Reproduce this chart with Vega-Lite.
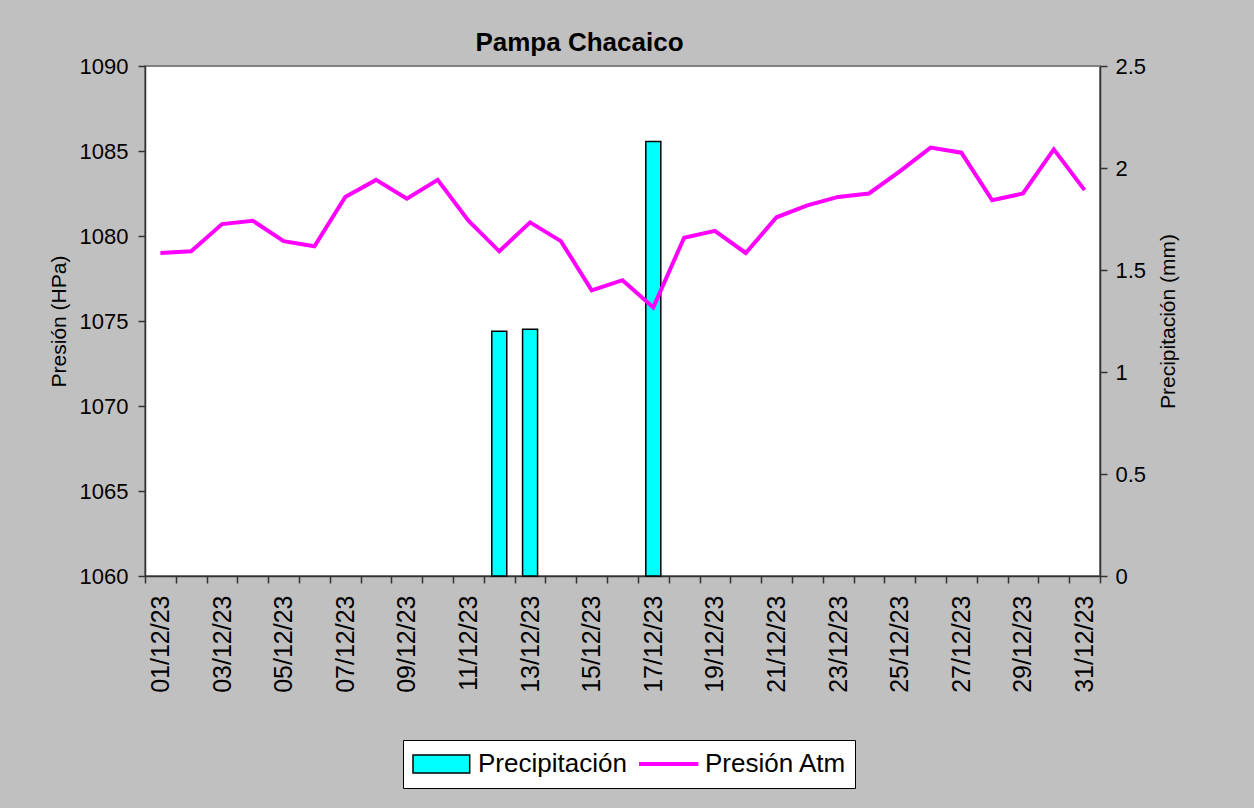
{
  "$schema": "https://vega.github.io/schema/vega-lite/v6.json",
  "autosize": "none",
  "padding": {"left": 145, "top": 66, "right": 154, "bottom": 232},
  "width": 955,
  "height": 510,
  "background": "#C0C0C0",
  "config": {
    "font": "Liberation Sans",
    "view": {"fill": "white", "stroke": "#808080", "strokeWidth": 2},
    "axis": {"grid": false, "labelColor": "black", "titleColor": "black", "domainColor": "#333333", "tickColor": "#333333", "domainWidth": 1.5, "tickWidth": 1.5, "tickSize": 7, "labelFont": "Liberation Sans", "titleFont": "Liberation Sans"}
  },
  "title": {"text": "Pampa Chacaico", "fontSize": 26, "fontWeight": "bold", "font": "Liberation Sans", "color": "black", "anchor": "middle", "dx": -43, "dy": 38, "offset": 16, "baseline": "alphabetic"},
  "data": {"values": [
    {"fecha": "01/12/23", "presion": 1079.0, "precip": 0},
    {"fecha": "02/12/23", "presion": 1079.1, "precip": 0},
    {"fecha": "03/12/23", "presion": 1080.7, "precip": 0},
    {"fecha": "04/12/23", "presion": 1080.9, "precip": 0},
    {"fecha": "05/12/23", "presion": 1079.7, "precip": 0},
    {"fecha": "06/12/23", "presion": 1079.4, "precip": 0},
    {"fecha": "07/12/23", "presion": 1082.3, "precip": 0},
    {"fecha": "08/12/23", "presion": 1083.3, "precip": 0},
    {"fecha": "09/12/23", "presion": 1082.2, "precip": 0},
    {"fecha": "10/12/23", "presion": 1083.3, "precip": 0},
    {"fecha": "11/12/23", "presion": 1080.9, "precip": 0},
    {"fecha": "12/12/23", "presion": 1079.1, "precip": 1.2},
    {"fecha": "13/12/23", "presion": 1080.8, "precip": 1.21},
    {"fecha": "14/12/23", "presion": 1079.7, "precip": 0},
    {"fecha": "15/12/23", "presion": 1076.8, "precip": 0},
    {"fecha": "16/12/23", "presion": 1077.4, "precip": 0},
    {"fecha": "17/12/23", "presion": 1075.8, "precip": 2.13},
    {"fecha": "18/12/23", "presion": 1079.9, "precip": 0},
    {"fecha": "19/12/23", "presion": 1080.3, "precip": 0},
    {"fecha": "20/12/23", "presion": 1079.0, "precip": 0},
    {"fecha": "21/12/23", "presion": 1081.1, "precip": 0},
    {"fecha": "22/12/23", "presion": 1081.8, "precip": 0},
    {"fecha": "23/12/23", "presion": 1082.3, "precip": 0},
    {"fecha": "24/12/23", "presion": 1082.5, "precip": 0},
    {"fecha": "25/12/23", "presion": 1083.8, "precip": 0},
    {"fecha": "26/12/23", "presion": 1085.2, "precip": 0},
    {"fecha": "27/12/23", "presion": 1084.9, "precip": 0},
    {"fecha": "28/12/23", "presion": 1082.1, "precip": 0},
    {"fecha": "29/12/23", "presion": 1082.5, "precip": 0},
    {"fecha": "30/12/23", "presion": 1085.1, "precip": 0},
    {"fecha": "31/12/23", "presion": 1082.7, "precip": 0}
  ]},
  "encoding": {
    "x": {
      "field": "fecha", "type": "ordinal", "sort": "ascending",
      "scale": {"paddingInner": 0, "paddingOuter": 0},
      "axis": {"title": null, "labelAngle": -90, "labelFontSize": 25, "tickBand": "extent", "labelPadding": 12,
        "labelExpr": "parseInt(substring(datum.label,0,2)) % 2 == 1 ? datum.label : ''"}
    }
  },
  "layer": [
    {
      "transform": [{"filter": "datum.precip > 0"}],
      "mark": {"type": "bar", "size": 15, "stroke": "black", "strokeWidth": 1.5, "opacity": 1},
      "encoding": {
        "y": {"field": "precip", "type": "quantitative", "scale": {"domain": [0, 2.5]},
          "axis": {"orient": "right", "title": "Precipitación (mm)", "values": [0, 0.5, 1, 1.5, 2, 2.5], "format": "~g",
            "labelFontSize": 22, "titleFontSize": 21, "titleFontWeight": "normal", "labelPadding": 8, "titlePadding": 12,
            "titleAngle": 270, "titleBaseline": "top"}},
        "fill": {"datum": "Precipitación", "type": "nominal",
          "scale": {"domain": ["Precipitación"], "range": ["#00FFFF"]},
          "legend": {
            "orient": "none", "legendX": 258, "legendY": 674, "title": null,
            "fillColor": "white", "strokeColor": "black", "padding": 11,
            "labelFontSize": 26, "labelFont": "Liberation Sans", "labelColor": "black", "labelLimit": 0,
            "symbolSize": 324, "labelOffset": 43, "symbolOffset": -5,
            "symbolType": "M-1,-1H5.3V1H-1Z", "symbolStrokeColor": "black", "symbolStrokeWidth": 1.5, "symbolOpacity": 1,
            "labelExpr": "datum.label + ' \u2800\u2800\u2800\u2800\u2800\u2800\u2800\u2800\u2800\u2800\u2800'"
          }}
      }
    },
    {
      "mark": {"type": "line", "strokeWidth": 4},
      "encoding": {
        "y": {"field": "presion", "type": "quantitative", "scale": {"domain": [1060, 1090], "zero": false},
          "axis": {"orient": "left", "title": "Presión (HPa)", "values": [1060, 1065, 1070, 1075, 1080, 1085, 1090], "format": "d",
            "labelFontSize": 22, "titleFontSize": 21, "titleFontWeight": "normal", "labelPadding": 10, "titlePadding": 10}},
        "stroke": {"datum": "Presión Atm", "type": "nominal",
          "scale": {"domain": ["Presión Atm"], "range": ["#FF00FF"]},
          "legend": {
            "orient": "none", "legendX": 484, "legendY": 674, "title": null,
            "padding": 11,
            "labelFontSize": 26, "labelFont": "Liberation Sans", "labelColor": "black", "labelLimit": 0,
            "symbolSize": 324, "labelOffset": 44, "symbolOffset": -5,
            "symbolType": "M-1,0H5.6", "symbolStrokeWidth": 4, "symbolFillColor": "transparent", "symbolOpacity": 1
          }}
      }
    }
  ],
  "resolve": {"scale": {"y": "independent"}}
}
